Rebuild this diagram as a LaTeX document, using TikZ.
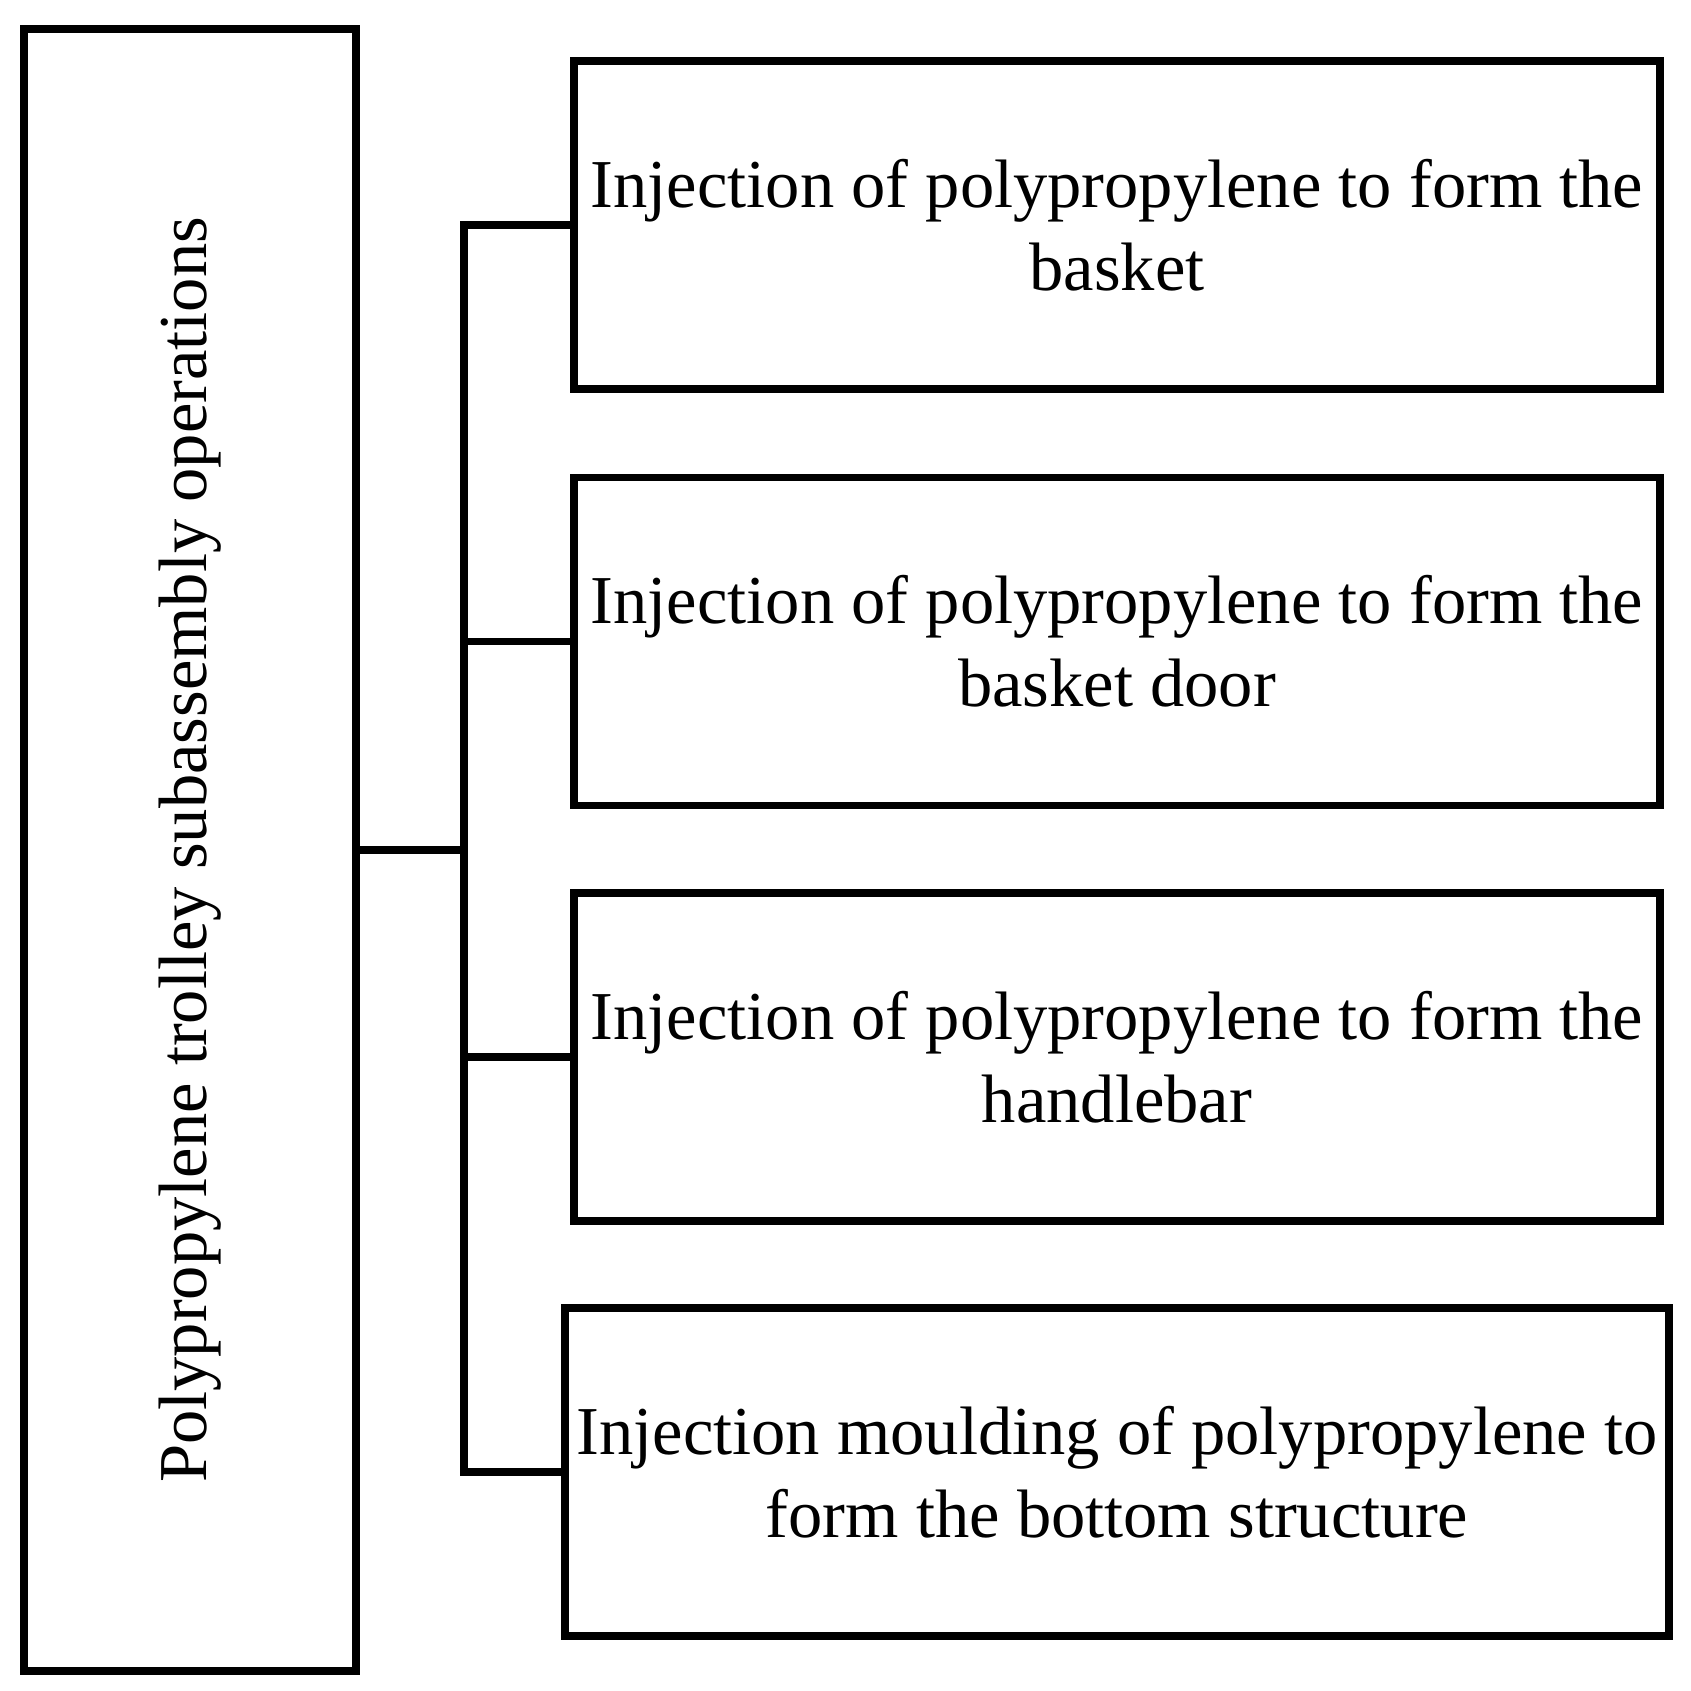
\documentclass[tikz,border=0pt]{standalone}
\usepackage{fontspec}
\setmainfont{Liberation Serif}
\usetikzlibrary{positioning}

\tikzset{
  box/.style={draw, line width=2.2pt, align=center, font=\fontsize{19.5}{23.5}\selectfont},
  opbox/.style={box, minimum width=10.86cm, minimum height=3.28cm},
  link/.style={line width=2.2pt}
}

\begin{document}
\begin{tikzpicture}
\useasboundingbox (0,0) rectangle (16.91,16.91);

% Main box
\node[box, minimum width=3.32cm, minimum height=16.42cm] (main) at (1.90,8.41) {};
\node[rotate=90, font=\fontsize{19.5}{23.5}\selectfont] (mainlabel) at (main.center) {Polypropylene trolley subassembly operations};

% Operations
\node[opbox] (basket) at (11.17,14.66) {Injection of polypropylene to form the\\basket};
\node[opbox] (door) at (11.17,10.495) {Injection of polypropylene to form the\\basket door};
\node[opbox] (handle) at (11.17,6.34) {Injection of polypropylene to form the\\handlebar};
\node[opbox] (bottom) at (11.17,2.19) {Injection moulding of polypropylene to\\form the bottom structure};

% Connectors
\coordinate (bus) at (4.64,8.41);
\draw[link] (main.east) -- (bus);
\draw[link, line cap=rect] (basket.west) -| (bus) |- (bottom.west);
\draw[link] (door.west) -- (door.west -| bus);
\draw[link] (handle.west) -- (handle.west -| bus);

\end{tikzpicture}
\end{document}
